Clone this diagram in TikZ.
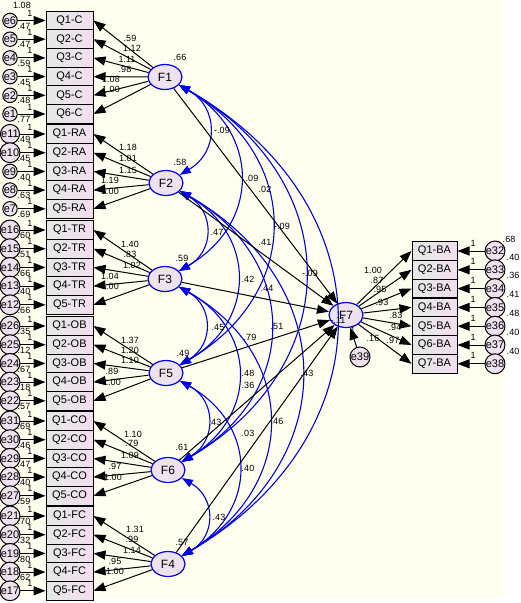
\documentclass[tikz,border=0pt]{standalone}
\usepackage{fontspec}
\setmainfont{Liberation Sans}
\usetikzlibrary{arrows.meta}
\usetikzlibrary{shapes.geometric}
\definecolor{paper}{RGB}{255,255,240}
\definecolor{boxleft}{RGB}{228,234,228}
\definecolor{boxright}{RGB}{242,222,240}
\definecolor{latfill}{RGB}{238,226,238}
\definecolor{covblue}{RGB}{0,0,235}
\tikzset{obs/.style={draw,line width=1pt,left color=boxleft,right color=boxright,
		minimum width=47pt,minimum height=18.7pt,inner sep=0pt,font=\fontsize{11}{11}\selectfont},
	lat/.style={ellipse,draw=covblue,line width=1.2pt,fill=latfill,
		minimum width=34pt,minimum height=25pt,inner sep=0pt,font=\fontsize{12}{12}\selectfont},
	err/.style={circle,draw,line width=1pt,fill=latfill,minimum size=14pt,inner sep=0pt,
		font=\fontsize{11}{11}\selectfont},
	est/.style={inner sep=0pt,font=\fontsize{9}{9}\selectfont},
	loadarrow/.style={draw,line width=1pt,-{Triangle[length=12pt,width=9pt]}},
	cov/.style={draw=covblue,line width=1.1pt,
		{Triangle[length=11pt,width=8pt]}-{Triangle[length=11pt,width=8pt]}}}

\begin{document}
\begin{tikzpicture}[x=1pt,y=1pt]
	\useasboundingbox (0,0) rectangle (520,-603);
	\fill[paper] (0,0) rectangle (505,-598);
	% latent factors
	\node[lat] (F1) at (165,-77) {F1};
	\node[lat] (F2) at (166,-183) {F2};
	\node[lat] (F3) at (165,-279) {F3};
	\node[lat] (F5) at (166,-373) {F5};
	\node[lat] (F6) at (168,-470) {F6};
	\node[lat] (F4) at (168,-564) {F4};
	\node[lat] (F7) at (346,-315) {F7};
	\node[err,minimum size=20pt] (e39) at (360,-357) {e39};
	% covariances
	\foreach \a/\b in {F1/F2,F1/F3,F1/F5,F1/F6,F1/F4,F2/F3,F2/F5,F2/F6,F2/F4,
		F3/F5,F3/F6,F3/F4,F5/F6,F5/F4,F6/F4}
	\path[cov] (\a) to[bend left=60,looseness=1.3] (\b);
	% paths to F7
	\foreach \f in {F1,F2,F3,F5,F6,F4}
	\path[loadarrow] (\f) -- (F7);
	\path[loadarrow] (e39) -- (F7);
	% left indicators and errors
	\foreach \g/\f/\y/\e/\vs in {C/F1/20.5/7/{.47,.47,.59,.45,.48,.77},
		RA/F2/134/12/{.49,.45,.40,.63,.69}, TR/F3/230/17/{.60,.51,.66,.40,.66},
		OB/F5/326/27/{.35,.12,.67,.18,.57}, CO/F6/421/32/{.69,.46,.47,.40,.59},
		FC/F4/516/22/{.70,.32,.80,.62,{}}}{
		\foreach \v [count=\i] in \vs {
			\pgfmathtruncatemacro{\k}{\e-\i}
			\pgfmathsetmacro{\yc}{-\y-18.7*(\i-1)}
			\node[obs] (q\g\i) at (69.5,\yc) {Q\i-\g};
			\node[err] (e\k) at (10,\yc) {e\k};
			\path[loadarrow] (e\k) -- (q\g\i.west);
			\path[loadarrow] (\f) -- (q\g\i.east);
			\node[est] (one\k) at (30,\yc+7) {1};
			\node[est] (var\k) at (24,\yc-5.5) {\v};
		}
	}
	\node[est] (var0) at (22,-5) {1.08};
	% right indicators
	\foreach \v [count=\i] in {.40,.36,.41,.48,.40,.40,{}}{
		\pgfmathtruncatemacro{\k}{31+\i}
		\pgfmathsetmacro{\yc}{-251-18.8*(\i-1)}
		\node[obs,minimum width=45pt] (qBA\i) at (434.5,\yc) {Q\i-BA};
		\node[err] (e\k) at (495,\yc) {e\k};
		\path[loadarrow] (e\k) -- (qBA\i.east);
		\path[loadarrow] (F7) -- (qBA\i.west);
		\node[est] (one\k) at (473,\yc+8) {1};
		\node[est] (var\k) at (513,\yc-6) {\v};
	}
	\node[est] (var31) at (509,-239) {.68};
	\node[est] (one39) at (353,-330) {1};
	\node[est] (var39) at (373,-338) {.16};
	% factor variances
	\foreach \t/\x/\y [count=\n] in {.66/180/57,.58/180/162,.59/182/258,
		.49/183/353,.61/182/447,.57/182/542}
	\node[est] (fv\n) at (\x,-\y) {\t};
	% loadings
	\foreach \x/\y/\t [count=\n] in {130/38/.59,132/48/1.12,127/59/1.11,125/69/.98,
		111/79/1.08,111/89/1.00,128/147/1.18,128/158/1.01,128/170/1.15,110/180/1.19,
		110/191/1.00,130/244/1.40,130/254/.83,132/265/1.02,110/276/1.04,110/286/1.00,
		130/340/1.37,130/350/1.20,130/360/1.10,112/371/.89,112/382/1.00,
		133/434/1.10,132/443/.79,130/455/1.09,115/466/.97,113/477/1.00,
		135/529/1.31,132/539/.99,132/550/1.14,115/561/.95,115/571/1.00,
		373/270/1.00,377/280/.87,380/289/.95,382/302/.93,396/315/.83,395/327/.94,
		393/340/.97}
	\node[est] (ld\n) at (\x,-\y) {\t};
	% regression weights and covariances
	\foreach \x/\y/\t [count=\n] in {265/189/.02,265/242/.41,267/288/.44,250/337/.79,
		248/385/.36,248/433/.03,222/130/-.09,252/178/.09,282/226/-.09,310/273/-.09,
		338/320/-.11,217/232/.47,248/279/.42,277/326/.51,307/373/.43,218/327/.45,
		248/373/.48,277/421/.46,215/422/.43,248/468/.40,219/517/.43}
	\node[est] (cv\n) at (\x,-\y) {\t};
\end{tikzpicture}
\end{document}
